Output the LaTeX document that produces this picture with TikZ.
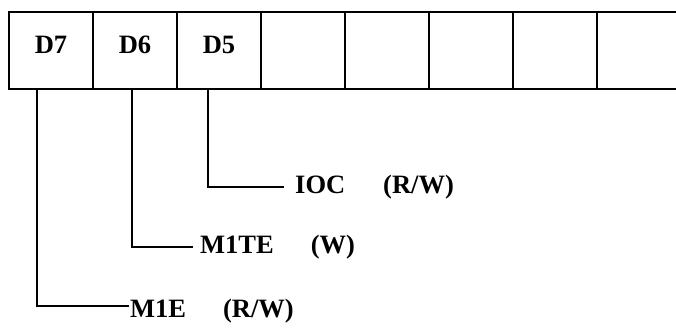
\documentclass[tikz,border=0pt]{standalone}
\usepackage{fontspec}
\setmainfont{Liberation Serif}
\begin{document}
\begin{tikzpicture}[x=1pt,y=-1pt,
  cell/.style={draw, line width=2pt, minimum width=84pt, minimum height=77pt, inner sep=0pt, outer sep=0pt,
    font=\bfseries\fontsize{26.5}{30}\selectfont, text depth=12pt},
  lbl/.style={inner sep=0pt, anchor=west, font=\bfseries\fontsize{26.5}{30}\selectfont},
  conn/.style={line width=2pt, line cap=rect}]
\useasboundingbox (0,0) rectangle (676,328);
\node[cell] (c1) at (51,50.5) {D7};
\node[cell] (c2) at (135,50.5) {D6};
\node[cell] (c3) at (219,50.5) {D5};
\node[cell] (c4) at (303,50.5) {};
\node[cell] (c5) at (387,50.5) {};
\node[cell] (c6) at (471,50.5) {};
\node[cell] (c7) at (555,50.5) {};
\coordinate (t8) at (678,12);
\coordinate (b8) at (678,89);
\draw[conn] (c7.north east) -- (t8);
\draw[conn] (c7.south east) -- (b8);
\node[lbl] (ioc) at (295,187) {IOC\hspace{38pt}(R/W)};
\node[lbl] (mte) at (200,247) {M1TE\hspace{37pt}(W)};
\node[lbl] (me) at (130,311) {M1E\hspace{37pt}(R/W)};
\draw[conn] ([xshift=-11pt]c3.south) |- ([xshift=-12pt]ioc.west);
\draw[conn] ([xshift=-3pt]c2.south) |- ([xshift=-8pt]mte.west);
\draw[conn] ([xshift=-14pt]c1.south) |- ([xshift=-2pt,yshift=5pt]me.west);
\end{tikzpicture}
\end{document}
